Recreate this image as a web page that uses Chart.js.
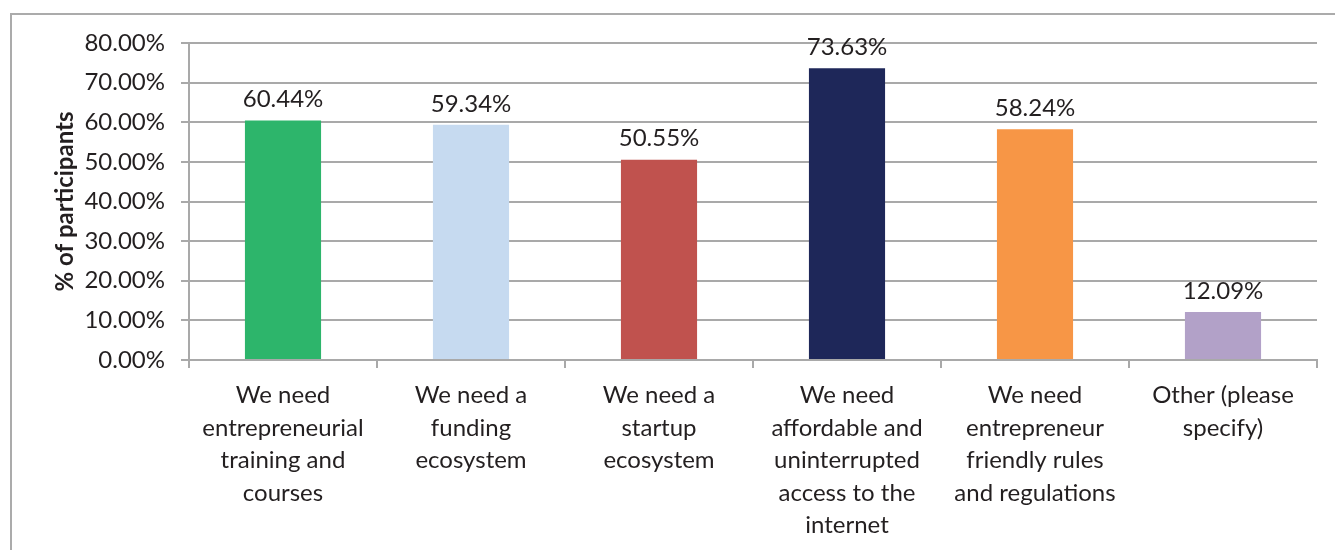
<!DOCTYPE html>
<html>
<head>
<meta charset="utf-8">
<script src="https://cdn.jsdelivr.net/npm/chart.js@4.4.1/dist/chart.umd.min.js"></script>
<style>
  html, body { margin: 0; padding: 0; background: #fff; }
  #wrap { position: relative; width: 1335px; height: 550px; overflow: hidden; }
  #frame { position: absolute; left: 10px; top: 13px; width: 1400px; height: 600px;
           border-left: 2px solid #ababab; border-top: 2px solid #ababab; }
  #chart { position: absolute; left: 0; top: 0; }
</style>
</head>
<body>
<div id="wrap">
  <div id="frame"></div>
  <canvas id="chart" width="1335" height="550"></canvas>
</div>
<script>
const categories = [
    ["We need", "entrepreneurial", "training and", "courses"],
    ["We need a", "funding", "ecosystem"],
    ["We need a", "startup", "ecosystem"],
    ["We need", "affordable and", "uninterrupted", "access to the", "internet"],
    ["We need", "entrepreneur", "friendly rules", "and regulations"],
    ["Other (please", "specify)"]
];
const shares = [60.44, 59.34, 50.55, 73.63, 58.24, 12.09];
const barColors = ["#2db56b", "#c6daf0", "#c0524e", "#1e2759", "#f79646", "#b2a1c8"];

const FONT = "Lato, 'Open Sans', sans-serif";
const INK = "#231f20";
const GRID = "#a9a9a9";

// value labels above each bar
const valueLabels = {
    id: 'valueLabels',
    afterDatasetsDraw(chart) {
        const ctx = chart.ctx;
        const meta = chart.getDatasetMeta(0);
        ctx.save();
        ctx.font = "24px " + FONT;
        ctx.fillStyle = INK;
        ctx.textAlign = 'center';
        ctx.textBaseline = 'middle';
        meta.data.forEach((bar, i) => {
            ctx.fillText(shares[i].toFixed(2) + '%', bar.x, bar.y - 21);
        });
        ctx.restore();
    }
};

new Chart(document.getElementById("chart"), {
    type: 'bar',
    data: {
        labels: categories,
        datasets: [{
            data: shares,
            backgroundColor: barColors,
            borderWidth: 0,
            barPercentage: 0.405,
            categoryPercentage: 1
        }]
    },
    options: {
        responsive: false,
        animation: false,
        layout: { padding: { top: 43, right: 18, left: 0, bottom: 0 } },
        plugins: {
            legend: { display: false },
            tooltip: { enabled: false }
        },
        scales: {
            x: {
                grid: {
                    offset: true,
                    drawOnChartArea: false,
                    color: GRID,
                    lineWidth: 2,
                    tickLength: 8
                },
                border: { color: GRID, width: 2 },
                ticks: {
                    color: INK,
                    font: { family: FONT, size: 24, lineHeight: 1.355 },
                    padding: 11,
                    maxRotation: 0,
                    autoSkip: false
                },
                afterFit(scale) { scale.height = 190; }
            },
            y: {
                min: 0,
                max: 80,
                grid: { color: GRID, lineWidth: 2, tickLength: 8 },
                border: { color: GRID, width: 2 },
                ticks: {
                    stepSize: 10,
                    color: INK,
                    padding: 16,
                    font: { family: FONT, size: 24 },
                    callback: v => v.toFixed(2) + '%'
                },
                title: {
                    display: true,
                    text: '% of participants',
                    color: INK,
                    font: { family: FONT, size: 24, weight: 'bold' },
                    padding: { top: 51, bottom: 0 }
                },
                afterFit(scale) { scale.width = 189; }
            }
        }
    },
    plugins: [valueLabels]
});
</script>
</body>
</html>
